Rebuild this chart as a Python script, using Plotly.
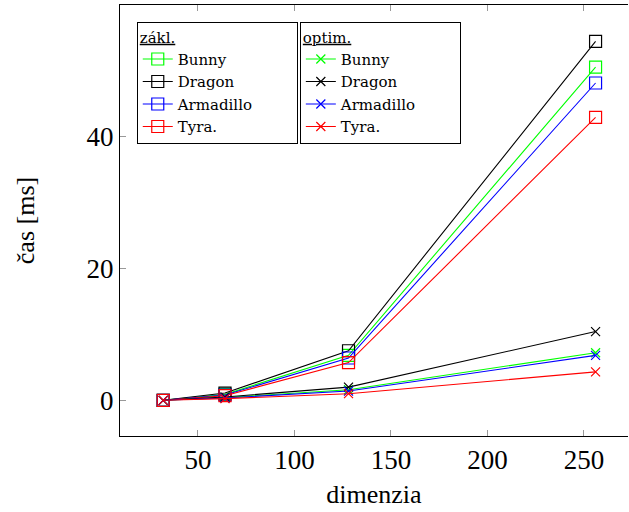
import plotly.graph_objects as go

dims = [32, 64, 128, 256]
models = ["Bunny", "Dragon", "Armadillo", "Tyra."]
colors = ["#00ff00", "#000000", "#0000ff", "#ff0000"]
basic = {
    "Bunny": [0.1, 1.0, 6.9, 50.5],
    "Dragon": [0.1, 1.2, 7.6, 54.4],
    "Armadillo": [0.1, 0.9, 6.5, 48.1],
    "Tyra.": [0.1, 0.8, 5.8, 42.9],
}
optim = {
    "Bunny": [0.1, 0.5, 1.7, 7.3],
    "Dragon": [0.1, 0.6, 2.1, 10.5],
    "Armadillo": [0.1, 0.45, 1.5, 6.9],
    "Tyra.": [0.1, 0.35, 1.1, 4.4],
}
xticks = [50, 100, 150, 200, 250]
yticks = [0, 20, 40]

FONT = "Liberation Serif"
LFONT = "DejaVu Serif"
PAD = "\u00a0" * 8

fig = go.Figure()
for m, c in zip(models, colors):
    fig.add_trace(go.Scatter(x=dims, y=basic[m], name=m + (PAD if m == "Armadillo" else ""),
                             mode="lines+markers",
                             line=dict(color=c, width=1.1),
                             marker=dict(symbol="square-open", size=12, color=c, line=dict(width=1.2)),
                             legend="legend"))
for m, c in zip(models, colors):
    fig.add_trace(go.Scatter(x=dims, y=optim[m], name=m + (PAD if m == "Armadillo" else ""),
                             mode="lines+markers",
                             line=dict(color=c, width=1.1),
                             marker=dict(symbol="x-thin-open", size=9, color=c, line=dict(width=1.2, color=c)),
                             legend="legend2"))

legend_common = dict(bgcolor="white", bordercolor="black", borderwidth=1,
                     font=dict(family=LFONT, size=15, color="black"),
                     yanchor="top", xanchor="left", y=0.96, tracegroupgap=0)
fig.update_layout(
    width=629, height=512,
    margin=dict(l=120, r=1, t=5, b=76),
    paper_bgcolor="white", plot_bgcolor="white",
    font=dict(family=FONT, size=27, color="black"),
    showlegend=True,
    legend=dict(x=0.033, title=dict(text="<u>zákl.</u>", font=dict(family=LFONT, size=15)), **legend_common),
    legend2=dict(x=0.354, title=dict(text="<u>optim.</u>", font=dict(family=LFONT, size=15)), **legend_common),
    xaxis=dict(range=[9.6, 272.8], tickvals=xticks, ticks="inside", ticklen=6, tickcolor="#999999",
               showline=True, linecolor="black", linewidth=1, mirror="ticks", showgrid=False, zeroline=False,
               automargin=False,
               title=dict(text="dimenzia", standoff=10, font=dict(size=26)), tickfont=dict(size=27)),
    yaxis=dict(range=[-5.3, 59.9], tickvals=yticks, ticks="inside", ticklen=6, tickcolor="#999999",
               showline=True, linecolor="black", linewidth=1, mirror=False, showgrid=False, zeroline=False,
               automargin=False,
               title=dict(text="čas [ms]", standoff=44, font=dict(size=26)), tickfont=dict(size=27)),
)
fig.write_html("out.html", post_script="document.body.style.margin='0';",
               config={"displayModeBar": False})
